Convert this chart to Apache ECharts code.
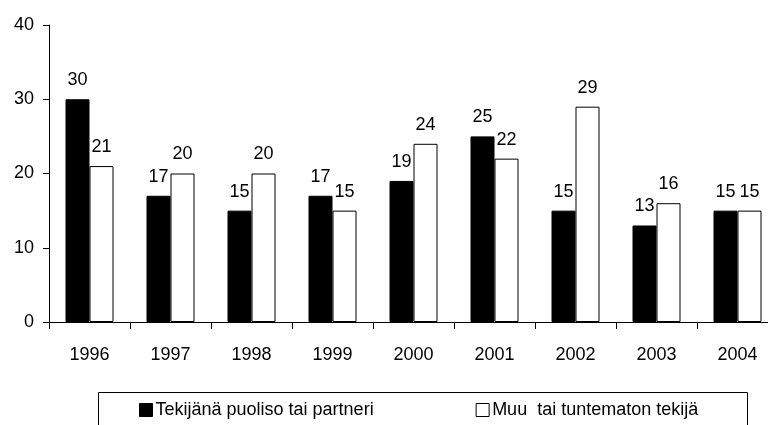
<!DOCTYPE html>
<html>
<head>
<meta charset="utf-8">
<script src="https://cdn.jsdelivr.net/npm/echarts@6/dist/echarts.min.js"></script>
<style>html,body{margin:0;padding:0;background:#fff}#c{width:768px;height:425px}</style>
</head>
<body>
<div id="c"></div>
<script>
var categories = ['1996','1997','1998','1999','2000','2001','2002','2003','2004'];
var seriesPartner = [30,17,15,17,19,25,15,13,15];
var seriesOther = [21,20,20,15,24,22,29,16,15];
var seriesNames = ['Tekijänä puoliso tai partneri','Muu  tai tuntematon tekijä'];
var yTicks = [0,10,20,30,40];

var font = '"Liberation Sans", Arial, sans-serif';
var chart = echarts.init(document.getElementById('c'), null, {renderer:'canvas'});
chart.setOption({
  animation:false,
  backgroundColor:'#fff',
  grid:{left:49, width:729, top:25, height:297, containLabel:false, outerBoundsMode:'none'},
  xAxis:{
    type:'category', data:categories,
    axisLine:{lineStyle:{color:'#000', width:1}},
    axisTick:{show:true, length:7, lineStyle:{color:'#000'}},
    axisLabel:{color:'#000', fontSize:18, fontFamily:font, margin:24}
  },
  yAxis:{
    type:'value', min:yTicks[0], max:yTicks[yTicks.length-1], interval:10,
    axisLine:{show:true, lineStyle:{color:'#000', width:1}},
    axisTick:{show:true, length:6, lineStyle:{color:'#000'}},
    splitLine:{show:false},
    axisLabel:{color:'#000', fontSize:18, fontFamily:font, margin:15}
  },
  legend:{
    left:139, top:401, padding:0, itemGap:102, itemWidth:13, itemHeight:13, icon:'rect',
    itemStyle:{borderColor:'#000', borderWidth:1},
    textStyle:{color:'#000', fontSize:18, fontFamily:font, lineHeight:18, padding:[0,0,0,-2]},
    data:seriesNames
  },
  graphic:[{type:'rect', shape:{x:98.5, y:392.5, width:649, height:40}, style:{fill:'none', stroke:'#000', lineWidth:1}, z:-1}],
  series:[
    {name:seriesNames[0], type:'bar', data:seriesPartner, barWidth:24, barGap:'0%',
     itemStyle:{color:'#000', borderColor:'#000', borderWidth:1},
     label:{show:true, position:'top', distance:10, color:'#000', fontSize:18, fontFamily:font}},
    {name:seriesNames[1], type:'bar', data:seriesOther, barWidth:24, barGap:'0%',
     itemStyle:{color:'#fff', borderColor:'#000', borderWidth:1},
     label:{show:true, position:'top', distance:10, color:'#000', fontSize:18, fontFamily:font}}
  ]
});
</script>
</body>
</html>
